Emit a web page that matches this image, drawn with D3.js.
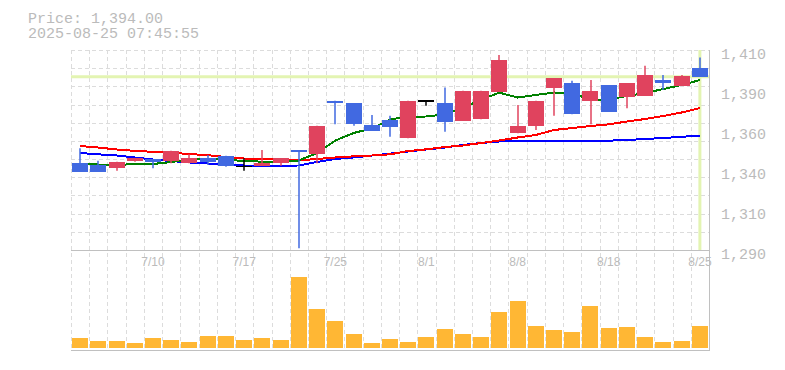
<!DOCTYPE html>
<html>
<head>
<meta charset="utf-8">
<script src="https://cdn.jsdelivr.net/npm/d3@7"></script>
<style>
  body { margin: 0; background: #fff; }
  svg { display: block; }
</style>
</head>
<body>
<div id="chart"></div>
<script>
const dates = ["7/4","7/7","7/8","7/9","7/10","7/11","7/14","7/15","7/16","7/17",
  "7/18","7/22","7/23","7/24","7/25","7/28","7/29","7/30","7/31","8/1",
  "8/4","8/5","8/6","8/7","8/8","8/12","8/13","8/14","8/15","8/18",
  "8/19","8/20","8/21","8/22","8/25"];

const open  = [1342, 1341, 1339, 1343.5, 1344.5, 1343.5, 1342, 1345, 1346.5, 1340.5,
  1340.5, 1342, 1350, 1347.5, 1379.5, 1378, 1365, 1368, 1357, 1380,
  1378, 1367.5, 1368.5, 1385, 1360, 1364.5, 1387, 1390, 1379.5, 1389,
  1382, 1382.5, 1392, 1388.5, 1399];
const high  = [1351, 1343.5, 1343, 1345, 1344.5, 1349.5, 1347.5, 1347, 1346.5, 1345,
  1350, 1345, 1350, 1364.5, 1379.5, 1378, 1371, 1370.5, 1379.5, 1380,
  1387.5, 1385.5, 1385.5, 1407, 1377, 1379.5, 1393, 1391.5, 1392, 1389,
  1390, 1400.5, 1395, 1395, 1405.5];
const low   = [1337, 1337, 1337.5, 1343, 1339, 1342, 1342, 1341, 1340, 1337.5,
  1340.5, 1340.5, 1291, 1342, 1365.5, 1364.5, 1361.5, 1358, 1357, 1376.5,
  1361, 1367.5, 1368.5, 1385, 1360, 1362, 1370.5, 1371.5, 1365.5, 1373,
  1375, 1382.5, 1386, 1388.5, 1394];
const close = [1337, 1337, 1343, 1345, 1343, 1349.5, 1345, 1343, 1340.5, 1340.5,
  1342.5, 1345, 1349, 1364.5, 1378, 1365.5, 1361.5, 1364, 1379.5, 1380,
  1367, 1385.5, 1385.5, 1404, 1364.5, 1379.5, 1393, 1371.5, 1385.5, 1373,
  1390, 1395, 1390, 1394.5, 1394];

const volume = [100, 70, 70, 50, 100, 80, 60, 120, 120, 80,
  100, 80, 710, 390, 270, 140, 50, 90, 60, 110,
  190, 140, 110, 360, 470, 220, 180, 160, 420, 200,
  210, 110, 60, 70, 220];

const ma5  = [1341.9, 1341.3, 1341, 1341.6, 1341.6, 1342.8, 1344.3, 1344.8, 1344.2, 1343.4,
  1343, 1343, 1343.7, 1348.2, 1355.7, 1360.2, 1362.9, 1368.3, 1370, 1370.1,
  1371.3, 1375.2, 1380.3, 1384.4, 1381.5, 1383, 1384.5, 1384.2, 1380, 1380.3,
  1382.4, 1384.2, 1386.6, 1389, 1392];
const ma25 = [1352.4, 1351.5, 1350.3, 1349.5, 1348.9, 1348.3, 1347.6, 1346.9, 1345.8, 1344.9,
  1344.7, 1344, 1343.8, 1344.6, 1345.5, 1346.2, 1346.7, 1347.4, 1349.4, 1350.4,
  1351.8, 1352.7, 1354.2, 1355.7, 1357.5, 1359, 1362, 1363.2, 1364.4, 1365.4,
  1367.1, 1368.6, 1370.4, 1372.5, 1375.2];
const ma75 = [1348.2, 1347.4, 1346.7, 1345.5, 1344.3, 1343.4, 1342.5, 1341.9, 1341.3, 1340.7,
  1340.6, 1340.6, 1340.7, 1342.8, 1344.6, 1345.5, 1346.7, 1347.8, 1349.1, 1350.3,
  1351.5, 1353, 1354.2, 1355.1, 1355.2, 1355.1, 1355.2, 1355.2, 1355.4, 1355.6,
  1356, 1356.6, 1357.2, 1357.9, 1358.7];

const priceTicks = [1290, 1314, 1338, 1362, 1386, 1410];
const dateTicks = ["7/10", "7/17", "7/25", "8/1", "8/8", "8/18", "8/25"];
const lastPrice = 1394;
const stamp = "2025-08-25 07:45:55";

const W = 785, H = 370;
const plotL = 71, plotR = 709, plotT = 50, plotMid = 250, plotB = 350;

const svg = d3.select("#chart").append("svg")
  .attr("width", W)
  .attr("height", H);

const x = d3.scaleBand()
  .domain(dates)
  .range([plotL, plotR])
  .paddingInner(0.12)
  .paddingOuter(0.06);
const cx = d => x(d) + x.bandwidth() / 2;

const y = d3.scaleLinear().domain([1290, 1410]).range([plotMid, plotT]);
const vy = d3.scaleLinear().domain([0, 1000]).range([348, 248]);

// grid
const grid = svg.append("g")
  .attr("stroke", "#dcdcdc")
  .attr("stroke-dasharray", "4,3")
  .attr("shape-rendering", "crispEdges");

grid.selectAll(".vg")
  .data(d3.range(dates.length))
  .join("line")
  .attr("x1", i => Math.round(plotL + i * x.step()) + 0.5)
  .attr("x2", i => Math.round(plotL + i * x.step()) + 0.5)
  .attr("y1", plotT)
  .attr("y2", plotB);

grid.selectAll(".hg")
  .data(d3.range(11))
  .join("line")
  .attr("x1", plotL)
  .attr("x2", plotR)
  .attr("y1", k => Math.round(plotT + k * (plotMid - plotT) / 11) + 0.5)
  .attr("y2", k => Math.round(plotT + k * (plotMid - plotT) / 11) + 0.5);

// current price markers
const lastDate = dates[dates.length - 1];
svg.append("line")
  .attr("x1", plotL).attr("x2", plotR)
  .attr("y1", y(lastPrice)).attr("y2", y(lastPrice))
  .attr("stroke", "#e3f4b2")
  .attr("stroke-width", 3);

svg.append("line")
  .attr("x1", cx(lastDate)).attr("x2", cx(lastDate))
  .attr("y1", plotT).attr("y2", plotMid)
  .attr("stroke", "#e3f4b2")
  .attr("stroke-width", 3);

// moving averages
const maLine = d3.line()
  .x((v, i) => cx(dates[i]))
  .y(v => y(v));

[[ma75, "#0000ff", 2], [ma25, "#ff0000", 2], [ma5, "#008000", 2]].forEach(([vals, color, w]) => {
  svg.append("path")
    .attr("d", maLine(vals))
    .attr("fill", "none")
    .attr("stroke", color)
    .attr("stroke-width", w)
    .attr("shape-rendering", "crispEdges");
});

// candles
const candleColor = i => close[i] > open[i] ? "#e0435e" : (close[i] < open[i] ? "#4169e1" : "#000");

const candles = svg.append("g")
  .selectAll("g")
  .data(dates)
  .join("g");

candles.append("line")
  .attr("x1", d => Math.round(cx(d)))
  .attr("x2", d => Math.round(cx(d)))
  .attr("y1", (d, i) => y(high[i]))
  .attr("y2", (d, i) => y(low[i]))
  .attr("stroke", (d, i) => candleColor(i))
  .attr("stroke-width", 1.5);

candles.append("rect")
  .attr("x", d => Math.round(x(d)))
  .attr("width", 16)
  .attr("y", (d, i) => y(Math.max(open[i], close[i])))
  .attr("height", (d, i) => Math.max(1.5, Math.abs(y(open[i]) - y(close[i]))))
  .attr("fill", (d, i) => candleColor(i))
  .attr("shape-rendering", "crispEdges");

// volume
svg.append("g")
  .selectAll("rect")
  .data(dates)
  .join("rect")
  .attr("x", d => Math.round(x(d)))
  .attr("width", 16)
  .attr("y", (d, i) => vy(volume[i]))
  .attr("height", (d, i) => vy(0) - vy(volume[i]))
  .attr("fill", "#ffb734")
  .attr("shape-rendering", "crispEdges");

// frame
const frame = svg.append("g")
  .attr("stroke", "#c0c0c0")
  .attr("shape-rendering", "crispEdges");
frame.append("line").attr("x1", plotL).attr("x2", plotR + 1).attr("y1", plotMid + 0.5).attr("y2", plotMid + 0.5);
frame.append("line").attr("x1", plotL).attr("x2", plotR + 1).attr("y1", plotB + 0.5).attr("y2", plotB + 0.5);
frame.append("line").attr("x1", plotR + 0.5).attr("x2", plotR + 0.5).attr("y1", plotT).attr("y2", plotB + 1);

// axes
const yAxis = svg.append("g")
  .attr("transform", `translate(${plotR},0)`)
  .call(d3.axisRight(y)
    .tickValues(priceTicks)
    .tickSize(0)
    .tickPadding(12)
    .tickFormat(v => d3.format(",")(Math.round(v / 10) * 10)));
yAxis.select(".domain").remove();
yAxis.selectAll("text")
  .attr("dy", "0.55em")
  .attr("fill", "#bbb")
  .style("font-family", "'Liberation Mono', monospace")
  .style("font-size", "15px");

const xAxis = svg.append("g")
  .attr("transform", `translate(0,${plotMid})`)
  .call(d3.axisBottom(x)
    .tickValues(dateTicks)
    .tickSize(0)
    .tickPadding(7.5));
xAxis.select(".domain").remove();
xAxis.selectAll("text")
  .attr("fill", "#bbb")
  .style("font-family", "'Liberation Sans', sans-serif")
  .style("font-size", "12px");

// header
const header = svg.append("g")
  .attr("fill", "#bbb")
  .style("font-family", "'Liberation Mono', monospace")
  .style("font-size", "15px");
header.append("text").attr("x", 28).attr("y", 23)
  .text("Price: " + d3.format(",.2f")(lastPrice));
header.append("text").attr("x", 28).attr("y", 37.5)
  .text(stamp);
</script>
</body>
</html>
